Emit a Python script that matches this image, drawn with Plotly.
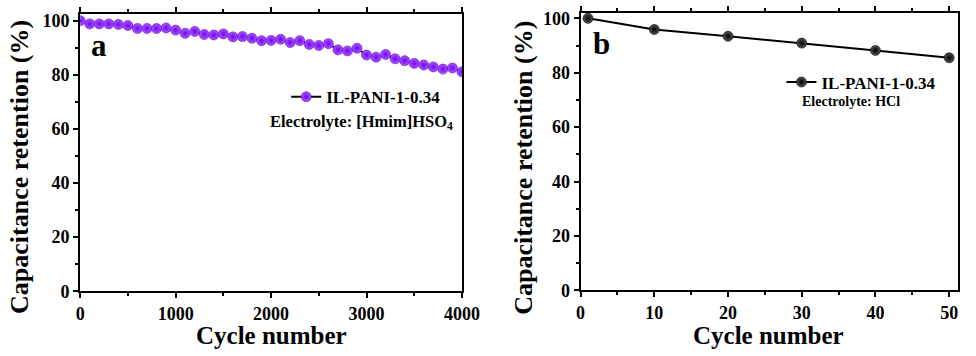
import plotly.graph_objects as go

# Cycling stability of IL-PANI-1-0.34 in two electrolytes
cycles_il = list(range(0, 4001, 100))
retention_il = [100.0, 98.8, 98.8, 98.8, 98.6, 98.2, 97.1, 97.1, 97.1, 97.3,
                96.5, 95.3, 96.0, 94.9, 94.7, 95.1, 94.0, 94.1, 93.5, 92.6,
                92.7, 93.1, 91.9, 92.6, 91.2, 90.8, 91.5, 89.2, 88.8, 89.8,
                87.3, 86.5, 87.5, 85.9, 85.2, 84.2, 83.6, 82.9, 82.1, 82.5,
                81.1]

cycles_hcl = [1, 10, 20, 30, 40, 50]
retention_hcl = [100.0, 95.9, 93.4, 90.9, 88.2, 85.5]

series_name = "IL-PANI-1-0.34"
electrolyte_a = "Electrolyte: [Hmim]HSO<sub>4</sub>"
electrolyte_b = "Electrolyte: HCl"
x_title = "Cycle number"
y_title = "Capacitance retention (%)"
ticks_a = [0, 1000, 2000, 3000, 4000]
ticks_b = [0, 10, 20, 30, 40, 50]
ticks_y = [0, 20, 40, 60, 80, 100]

W, H = 976, 356
FAMILY = "Liberation Serif, Times New Roman, serif"


def px_x(p):
    return p / W


def px_y(p):
    return 1 - p / H


fig = go.Figure()

# Panel a: ionic-liquid electrolyte (shaded violet spheres on a black line)
fig.add_trace(go.Scatter(
    x=cycles_il, y=retention_il, mode="lines+markers", name=series_name,
    line=dict(color="black", width=2),
    marker=dict(size=10, color="#A45CFF", gradient=dict(type="radial", color="#7800F0"),
                line=dict(color="#6600CC", width=0.6)),
    xaxis="x", yaxis="y", legend="legend",
))

# Panel b: HCl electrolyte (shaded black spheres)
fig.add_trace(go.Scatter(
    x=cycles_hcl, y=retention_hcl, mode="lines+markers", name=series_name,
    line=dict(color="black", width=2),
    marker=dict(size=10, color="#555555", gradient=dict(type="radial", color="#000000"),
                line=dict(color="black", width=0.6)),
    xaxis="x2", yaxis="y2", legend="legend2",
))

tick_font = dict(family=FAMILY, size=18, color="black", weight="bold")
minor_common = dict(ticklen=3, tickwidth=2, tickcolor="black", ticks="outside")
axis_common = dict(
    showline=True, linecolor="black", linewidth=2,
    ticks="outside", ticklen=5, tickwidth=2, tickcolor="black",
    showgrid=False, zeroline=False, tickfont=tick_font,
)
legend_font = dict(family=FAMILY, size=17, color="black", weight="bold")

fig.update_layout(
    width=W, height=H, margin=dict(l=0, r=0, t=0, b=0),
    paper_bgcolor="white", plot_bgcolor="white",
    xaxis=dict(domain=[px_x(77), px_x(468)], range=[0, 4000], tickvals=ticks_a,
               minor=dict(dtick=500, **minor_common), mirror="ticks",
               anchor="y", **axis_common),
    yaxis=dict(domain=[px_y(299), px_y(10)], range=[0, 102.6], tickvals=ticks_y,
               minor=dict(dtick=10, **minor_common), mirror=True,
               anchor="x", **axis_common),
    xaxis2=dict(domain=[px_x(589.5), 1.0], range=[0, 51.2], tickvals=ticks_b,
                minor=dict(dtick=5, **minor_common), mirror="ticks",
                anchor="y2", **axis_common),
    yaxis2=dict(domain=[px_y(298), px_y(9)], range=[0, 102.1], tickvals=ticks_y,
                minor=dict(dtick=10, **minor_common), mirror=True,
                anchor="x2", **axis_common),
    legend=dict(x=px_x(288), y=px_y(97), xanchor="left", yanchor="middle",
                bgcolor="rgba(0,0,0,0)", borderwidth=0, font=legend_font),
    legend2=dict(x=px_x(958), y=px_y(81.7), xanchor="right", yanchor="middle",
                 bgcolor="rgba(0,0,0,0)", borderwidth=0, font=legend_font),
    showlegend=True,
)

label_font = dict(family=FAMILY, color="black", weight="bold")
annotations = [
    # panel letters
    dict(text="a", x=px_x(96), y=px_y(43), font=dict(size=31, **label_font)),
    dict(text="b", x=px_x(611), y=px_y(41), font=dict(size=31, **label_font)),
    # electrolyte notes
    dict(text=electrolyte_a, x=px_x(269), y=px_y(123), xanchor="left",
         font=dict(size=16.5, **label_font)),
    dict(text=electrolyte_b, x=px_x(814), y=px_y(101.7), xanchor="left",
         font=dict(size=14, **label_font)),
    # axis titles
    dict(text=x_title, x=px_x(272.5), y=px_y(345), font=dict(size=25, **label_font)),
    dict(text=x_title, x=px_x(782), y=px_y(345), font=dict(size=25, **label_font)),
    dict(text=y_title, x=px_x(15), y=px_y(170), textangle=-90, font=dict(size=26, **label_font)),
    dict(text=y_title, x=px_x(531), y=px_y(170), textangle=-90, font=dict(size=26, **label_font)),
]
for a in annotations:
    a.setdefault("xanchor", "center")
    a.setdefault("yanchor", "middle")
    fig.add_annotation(xref="paper", yref="paper", showarrow=False, **a)

fig.write_html("out.html")
